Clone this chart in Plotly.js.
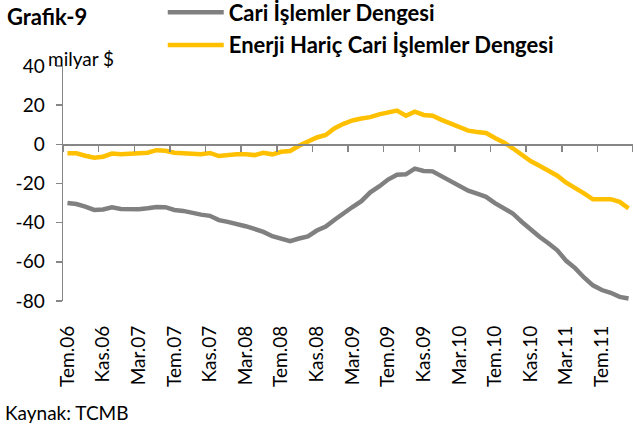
<!DOCTYPE html>
<html>
<head>
<meta charset="utf-8">
<script src="https://cdn.plot.ly/plotly-3.0.1.min.js"></script>
<style>html,body{margin:0;padding:0;background:#fff;}#chart{width:633px;height:423px;}</style>
</head>
<body>
<div id="chart"></div>
<script>
// Monthly categories: Tem.06 (Jul 2006) .. Eki.11 (Oct 2011)
const months = [
  "Tem.06","Ağu.06","Eyl.06","Eki.06","Kas.06","Ara.06",
  "Oca.07","Şub.07","Mar.07","Nis.07","May.07","Haz.07","Tem.07","Ağu.07","Eyl.07","Eki.07","Kas.07","Ara.07",
  "Oca.08","Şub.08","Mar.08","Nis.08","May.08","Haz.08","Tem.08","Ağu.08","Eyl.08","Eki.08","Kas.08","Ara.08",
  "Oca.09","Şub.09","Mar.09","Nis.09","May.09","Haz.09","Tem.09","Ağu.09","Eyl.09","Eki.09","Kas.09","Ara.09",
  "Oca.10","Şub.10","Mar.10","Nis.10","May.10","Haz.10","Tem.10","Ağu.10","Eyl.10","Eki.10","Kas.10","Ara.10",
  "Oca.11","Şub.11","Mar.11","Nis.11","May.11","Haz.11","Tem.11","Ağu.11","Eyl.11","Eki.11"
];

const cariIslemler = [
  -30, -30.5, -31.8, -33.5, -33.3, -32.2,
  -33, -33.1, -33.1, -32.6, -32, -32.1, -33.5, -34, -35.2, -35.9, -36.5, -38.7,
  -39.6, -40.5, -41.8, -43.2, -44.7, -46.9, -48.3, -49.4, -48.1, -47, -44, -42,
  -38.5, -35, -32, -29, -24.5, -21.5, -18, -15.5, -15.3, -12.4, -13.6, -13.8,
  -16.4, -18.5, -21.5, -23.7, -25.2, -26.8, -30, -32.5, -35.3, -39.5, -43.5, -47.2,
  -50.5, -54.1, -59.5, -63.2, -68, -72, -74.4, -75.8, -77.9, -78.7
];

const enerjiHaric = [
  -4.6, -4.6, -5.8, -6.8, -6.3, -4.7,
  -5.1, -5, -4.8, -4.3, -3, -3.3, -4.3, -4.3, -4.8, -5, -4.4, -6,
  -5.5, -5.1, -5.1, -5.5, -4.3, -5.1, -3.8, -3.4, -0.7, 1.3, 3.5, 4.8,
  8.2, 10.5, 12.2, 13.2, 13.9, 15.3, 16.3, 17.2, 14.6, 16.7, 15, 14.6,
  12.5, 10.7, 8.5, 7, 6.3, 5.8, 3.2, 1, -2, -5.5, -8.5, -10.9,
  -13.2, -16, -19.6, -22, -25, -28.1, -28.1, -28, -29.4, -32.7
];

const seriesNames = ["Cari İşlemler Dengesi", "Enerji Hariç Cari İşlemler Dengesi"];
const yTicks = [-80, -60, -40, -20, 0, 20, 40];

const FONT = "Lato, 'Liberation Sans', sans-serif";
const AXIS_COLOR = "#868686";

const traces = [
  {
    x: months, y: cariIslemler, name: seriesNames[0], type: "scatter", mode: "lines",
    line: {color: "#808080", width: 4.5}, legendgroup: "a", xaxis: "x", yaxis: "y"
  },
  {
    x: months, y: enerjiHaric, name: seriesNames[1], type: "scatter", mode: "lines",
    line: {color: "#FFC000", width: 4.5}, legendgroup: "b", xaxis: "x", yaxis: "y"
  },
  // invisible carrier so the zero-line axis (x2) gets its categories
  {
    x: months, y: enerjiHaric, type: "scatter", mode: "lines", opacity: 0,
    line: {width: 0}, showlegend: false, hoverinfo: "skip", xaxis: "x2", yaxis: "y"
  }
];

const layout = {
  width: 633, height: 423,
  margin: {l: 63, r: 0, t: 66, b: 122, autoexpand: false},
  paper_bgcolor: "#fff", plot_bgcolor: "#fff",
  font: {family: FONT, size: 19, color: "#000"},
  title: {
    text: "<b>Grafik-9</b>", font: {family: FONT, size: 22, color: "#000"},
    xref: "container", yref: "container", x: 0.011, xanchor: "left", y: 1 - 17 / 423, yanchor: "middle"
  },
  showlegend: true,
  legend: {
    x: 0.175, xanchor: "left", y: 1.317, yanchor: "top", yref: "paper",
    font: {family: FONT, size: 22, color: "#000", weight: "bold"},
    bgcolor: "rgba(0,0,0,0)", tracegroupgap: 1, itemwidth: 56
  },
  xaxis: {
    type: "category", categoryorder: "array", categoryarray: months,
    range: [-0.5, months.length - 0.5],
    showline: false, ticks: "", showgrid: false, zeroline: false,
    tickmode: "linear", tick0: 0, dtick: 4, tickangle: -90,
    tickfont: {family: FONT, size: 19, color: "#000"}, ticklabelstandoff: 20
  },
  xaxis2: {
    type: "category", categoryorder: "array", categoryarray: months,
    range: [-0.5, months.length - 0.5], overlaying: "x", anchor: "free",
    position: (0 - (-80)) / (40 - (-80)), side: "bottom",
    showline: true, linecolor: AXIS_COLOR, linewidth: 1.5,
    ticks: "outside", ticklen: 6, tickwidth: 1.5, tickcolor: AXIS_COLOR, tickson: "boundaries",
    tickmode: "linear", tick0: 0, dtick: 4, showticklabels: false, showgrid: false, zeroline: false
  },
  yaxis: {
    range: [-80, 40], tickmode: "array", tickvals: yTicks, ticktext: yTicks.map(String),
    showline: true, linecolor: AXIS_COLOR, linewidth: 1.5, anchor: "x",
    ticks: "outside", ticklen: 6, tickwidth: 1.5, tickcolor: AXIS_COLOR,
    showgrid: false, zeroline: false,
    tickfont: {family: FONT, size: 19, color: "#000"}, ticklabelstandoff: 7
  },
  annotations: [
    {text: "milyar $", xref: "paper", yref: "paper", x: -0.03, xanchor: "left", y: 1.031, yanchor: "middle",
     showarrow: false, font: {family: FONT, size: 19, color: "#000"}},
    {text: "Kaynak: TCMB", xref: "paper", yref: "paper", x: -0.106, xanchor: "left", y: -0.475, yanchor: "middle",
     showarrow: false, font: {family: FONT, size: 19, color: "#000"}}
  ]
};

Plotly.newPlot("chart", traces, layout, {displayModeBar: false, staticPlot: true});
</script>
</body>
</html>
